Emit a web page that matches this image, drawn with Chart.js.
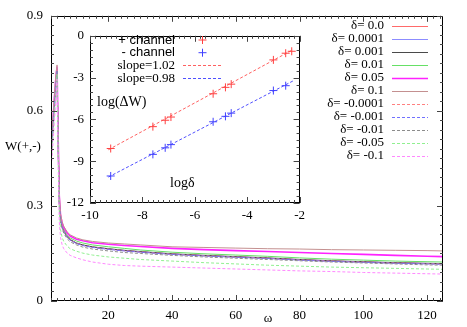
<!DOCTYPE html>
<html>
<head>
<meta charset="utf-8">
<script src="https://cdn.jsdelivr.net/npm/chart.js@4.4.1/dist/chart.umd.min.js"></script>
<style>
  html, body { margin: 0; padding: 0; background: #fff; }
  #wrap { position: relative; width: 467px; height: 327px; }
  #main { position: absolute; left: 0; top: 0; }
  #inset { position: absolute; left: 55px; top: 22px; }
</style>
</head>
<body>
<div id="wrap">
  <canvas id="main" width="467" height="327"></canvas>
  <canvas id="inset" width="255" height="205"></canvas>
</div>
<script>
// main plot: W(+,-) against omega for several delta
const omega = [2, 2.5, 3, 3.5, 3.9, 4.2, 4.6, 5, 5.5, 6, 7, 8, 10, 12, 15, 20, 25, 30, 40, 50, 60, 70, 80, 90, 100, 110, 120, 125];

const w_0     = [0.45, 0.53, 0.61, 0.68, 0.73, 0.52, 0.31, 0.26, 0.235, 0.22, 0.203, 0.193, 0.182, 0.176, 0.170, 0.164, 0.159, 0.155, 0.148, 0.143, 0.139, 0.135, 0.130, 0.126, 0.123, 0.120, 0.118, 0.117];
const w_p0001 = [0.45, 0.53, 0.61, 0.68, 0.73, 0.52, 0.31, 0.26, 0.235, 0.22, 0.203, 0.193, 0.182, 0.176, 0.170, 0.164, 0.159, 0.155, 0.148, 0.143, 0.139, 0.135, 0.130, 0.126, 0.123, 0.120, 0.118, 0.117];
const w_p001  = [0.451, 0.531, 0.611, 0.681, 0.731, 0.521, 0.311, 0.261, 0.236, 0.221, 0.204, 0.194, 0.183, 0.177, 0.171, 0.165, 0.160, 0.156, 0.149, 0.144, 0.140, 0.136, 0.131, 0.127, 0.124, 0.121, 0.119, 0.118];
const w_p01   = [0.46, 0.54, 0.62, 0.69, 0.735, 0.53, 0.32, 0.265, 0.24, 0.226, 0.209, 0.199, 0.189, 0.183, 0.177, 0.171, 0.166, 0.161, 0.154, 0.149, 0.145, 0.141, 0.136, 0.132, 0.129, 0.126, 0.124, 0.123];
const w_p05   = [0.47, 0.55, 0.63, 0.70, 0.74, 0.54, 0.33, 0.27, 0.245, 0.232, 0.215, 0.205, 0.195, 0.190, 0.184, 0.179, 0.175, 0.172, 0.166, 0.162, 0.159, 0.156, 0.153, 0.150, 0.147, 0.144, 0.141, 0.140];
const w_p1    = [0.48, 0.56, 0.64, 0.71, 0.745, 0.55, 0.34, 0.275, 0.25, 0.236, 0.219, 0.209, 0.199, 0.193, 0.188, 0.183, 0.180, 0.177, 0.171, 0.169, 0.167, 0.165, 0.164, 0.162, 0.161, 0.160, 0.159, 0.158];
const w_m0001 = [0.45, 0.53, 0.61, 0.68, 0.73, 0.52, 0.31, 0.26, 0.235, 0.22, 0.203, 0.193, 0.182, 0.176, 0.170, 0.164, 0.159, 0.155, 0.148, 0.143, 0.139, 0.135, 0.130, 0.126, 0.123, 0.120, 0.118, 0.117];
const w_m001  = [0.449, 0.529, 0.609, 0.679, 0.729, 0.519, 0.309, 0.259, 0.234, 0.219, 0.202, 0.192, 0.181, 0.175, 0.169, 0.163, 0.158, 0.154, 0.147, 0.142, 0.138, 0.134, 0.129, 0.125, 0.122, 0.119, 0.117, 0.116];
const w_m01   = [0.44, 0.52, 0.60, 0.67, 0.725, 0.51, 0.30, 0.25, 0.228, 0.214, 0.197, 0.187, 0.177, 0.170, 0.164, 0.158, 0.153, 0.150, 0.144, 0.139, 0.135, 0.131, 0.127, 0.123, 0.120, 0.117, 0.114, 0.113];
const w_m05   = [0.43, 0.50, 0.58, 0.65, 0.715, 0.49, 0.28, 0.225, 0.20, 0.188, 0.174, 0.165, 0.157, 0.151, 0.145, 0.139, 0.135, 0.131, 0.126, 0.121, 0.117, 0.113, 0.110, 0.107, 0.105, 0.103, 0.101, 0.100];
const w_m1    = [0.41, 0.48, 0.56, 0.63, 0.70, 0.46, 0.25, 0.20, 0.177, 0.165, 0.152, 0.144, 0.136, 0.130, 0.123, 0.116, 0.112, 0.110, 0.107, 0.104, 0.101, 0.098, 0.095, 0.093, 0.090, 0.088, 0.086, 0.085];

const deltaLabels = ['δ= 0.0', 'δ= 0.0001', 'δ= 0.001', 'δ= 0.01', 'δ= 0.05', 'δ= 0.1',
                     'δ= -0.0001', 'δ= -0.001', 'δ= -0.01', 'δ= -0.05', 'δ= -0.1'];
const xTicks = [20, 40, 60, 80, 100, 120];
const yTicks = [0, 0.3, 0.6, 0.9];

// inset: log(dW) against log(delta)
const logDelta   = [-9.21, -7.60, -7.13, -6.91, -5.30, -4.83, -4.61, -3.00, -2.53, -2.30];
const logDWplus  = [-8.09, -6.52, -6.06, -5.83, -4.16, -3.70, -3.47, -1.73, -1.25, -1.11];
const logDeltaM  = [-9.21, -7.60, -7.13, -6.91, -5.30, -4.83, -4.61, -3.00, -2.53];
const logDWminus = [-10.06, -8.51, -8.04, -7.81, -6.17, -5.78, -5.55, -3.93, -3.58];
const fitX     = [-9.3, -2.25];
const fitPlus  = [-8.18, -0.99];
const fitMinus = [-10.14, -3.24];
const insetXTicks = [-10, -8, -6, -4, -2];
const insetYTicks = [0, -3, -6, -9, -12];

Chart.defaults.font.family = '"Liberation Serif", serif';
Chart.defaults.font.size = 13;
Chart.defaults.color = '#000';

const series = [w_0, w_p0001, w_p001, w_p01, w_p05, w_p1, w_m0001, w_m001, w_m01, w_m05, w_m1];
const styles = [
  {c: '#ff6a6a', w: 1, d: []},
  {c: '#8c8cff', w: 1, d: []},
  {c: '#4a4a4a', w: 1, d: []},
  {c: '#66e066', w: 1, d: []},
  {c: '#ff22ff', w: 1.6, d: []},
  {c: '#c49090', w: 1, d: []},
  {c: '#ff8080', w: 1, d: [3, 2]},
  {c: '#7070ff', w: 1, d: [3, 2]},
  {c: '#8c8c8c', w: 1, d: [3, 2]},
  {c: '#90f090', w: 1, d: [3, 2]},
  {c: '#ff88ff', w: 1, d: [3, 2]}
];

function pairs(xs, ys) { return xs.map((x, i) => ({x: x, y: ys[i]})); }

// box + inward ticks on all four sides, plus free text
const frame = {
  id: 'frame',
  afterDatasetsDraw(chart, args, o) {
    const ctx = chart.ctx, a = chart.chartArea, sx = chart.scales.x, sy = chart.scales.y;
    ctx.save();
    ctx.strokeStyle = '#000';
    ctx.lineWidth = 1;
    ctx.setLineDash([]);
    ctx.strokeRect(Math.round(a.left) + 0.5, Math.round(a.top) + 0.5, Math.round(a.width) - 1, Math.round(a.height) - 1);
    ctx.strokeStyle = '#444';
    ctx.beginPath();
    for (let v = Math.ceil(sx.min / o.xMinor - 1e-6) * o.xMinor; v <= sx.max + 1e-9; v += o.xMinor) {
      const isMaj = Math.abs(v / o.xMajor - Math.round(v / o.xMajor)) < 1e-6;
      const len = isMaj ? o.major : o.minor;
      const px = Math.round(sx.getPixelForValue(v)) + 0.5;
      ctx.moveTo(px, a.bottom); ctx.lineTo(px, a.bottom - len);
      ctx.moveTo(px, a.top); ctx.lineTo(px, a.top + len);
    }
    for (let v = Math.ceil(sy.min / o.yMinor - 1e-6) * o.yMinor; v <= sy.max + 1e-9; v += o.yMinor) {
      const isMaj = Math.abs(v / o.yMajor - Math.round(v / o.yMajor)) < 1e-6;
      const len = isMaj ? o.major : o.minor;
      const py = Math.round(sy.getPixelForValue(v)) + 0.5;
      ctx.moveTo(a.left, py); ctx.lineTo(a.left + len, py);
      ctx.moveTo(a.right, py); ctx.lineTo(a.right - len, py);
    }
    ctx.stroke();
    ctx.fillStyle = '#000';
    ctx.textBaseline = 'middle';
    (o.texts || []).forEach(t => {
      ctx.font = t.font || '13px "Liberation Serif"';
      ctx.textAlign = t.align || 'center';
      ctx.fillText(t.t, t.x, t.y);
    });
    ctx.restore();
  }
};

// gnuplot style key: text right aligned, sample to the right
const key = {
  id: 'key',
  afterDatasetsDraw(chart, args, o) {
    if (!o.items) return;
    const ctx = chart.ctx;
    ctx.save();
    ctx.textAlign = 'right';
    ctx.textBaseline = 'middle';
    o.items.forEach((it, i) => {
      const ds = chart.data.datasets[it.ds];
      const y = o.top + i * o.row;
      ctx.font = it.font || '13px "Liberation Serif"';
      ctx.fillStyle = '#000';
      ctx.fillText(ds.label, o.textRight, y);
      ctx.strokeStyle = ds.borderColor;
      ctx.lineWidth = ds.borderWidth || 1;
      if (it.point) {
        ctx.setLineDash([]);
        Chart.helpers.drawPoint(ctx, {pointStyle: 'cross', radius: 4, borderWidth: 1}, (o.x0 + o.x1) / 2, y);
      } else {
        ctx.setLineDash(ds.borderDash || []);
        ctx.beginPath();
        ctx.moveTo(o.x0, Math.round(y) + 0.5);
        ctx.lineTo(o.x1, Math.round(y) + 0.5);
        ctx.stroke();
      }
    });
    ctx.restore();
  }
};

const mainSets = series.map((vals, i) => ({
  label: deltaLabels[i],
  data: pairs(omega, vals),
  borderColor: styles[i].c,
  borderWidth: styles[i].w,
  borderDash: styles[i].d,
  pointRadius: 0,
  tension: 0,
  fill: false,
  order: series.length - i
}));

new Chart(document.getElementById('main'), {
  type: 'line',
  data: { datasets: mainSets },
  options: {
    responsive: false,
    animation: false,
    events: [],
    layout: { padding: { top: 15, right: 24, left: 0, bottom: 0 } },
    scales: {
      x: {
        type: 'linear', min: 2, max: 125,
        afterBuildTicks: s => { s.ticks = xTicks.map(v => ({value: v})); },
        afterFit: s => { s.height = 26; },
        grid: { display: false, drawTicks: false },
        border: { display: false },
        ticks: { padding: 7, maxRotation: 0, autoSkip: false }
      },
      y: {
        type: 'linear', min: 0, max: 0.9,
        afterBuildTicks: s => { s.ticks = yTicks.map(v => ({value: v})); },
        afterFit: s => { s.width = 51; },
        grid: { display: false, drawTicks: false },
        border: { display: false },
        ticks: { padding: 8, autoSkip: false, callback: v => String(v) }
      }
    },
    plugins: {
      legend: { display: false },
      tooltip: { enabled: false },
      frame: {
        xMinor: 2, xMajor: 20, yMinor: 0.03, yMajor: 0.3, major: 6, minor: 3,
        texts: [
          {t: 'W(+,-)', x: 23, y: 147},
          {t: 'ω', x: 268, y: 319}
        ]
      },
      key: {
        top: 26, row: 13, textRight: 384, x0: 392, x1: 428,
        items: series.map((s, i) => ({ds: i}))
      }
    }
  },
  plugins: [frame, key]
});

new Chart(document.getElementById('inset'), {
  type: 'scatter',
  data: {
    datasets: [
      { label: '+ channel', data: pairs(logDelta, logDWplus), borderColor: '#ff4040', backgroundColor: '#ff4040',
        pointStyle: 'cross', pointRadius: 4, borderWidth: 1, showLine: false },
      { label: '- channel', data: pairs(logDeltaM, logDWminus), borderColor: '#4040ff', backgroundColor: '#4040ff',
        pointStyle: 'cross', pointRadius: 4, borderWidth: 1, showLine: false },
      { label: 'slope=1.02', data: pairs(fitX, fitPlus), borderColor: '#ff6060', borderWidth: 1,
        borderDash: [3, 2], pointRadius: 0, showLine: true },
      { label: 'slope=0.98', data: pairs(fitX, fitMinus), borderColor: '#5050ff', borderWidth: 1,
        borderDash: [3, 2], pointRadius: 0, showLine: true }
    ]
  },
  options: {
    responsive: false,
    animation: false,
    events: [],
    layout: { padding: { top: 8, right: 8, left: 0, bottom: 0 } },
    scales: {
      x: {
        type: 'linear', min: -10, max: -2,
        afterBuildTicks: s => { s.ticks = insetXTicks.map(v => ({value: v})); },
        afterFit: s => { s.height = 24; },
        grid: { display: false, drawTicks: false },
        border: { display: false },
        ticks: { padding: 5, maxRotation: 0, autoSkip: false }
      },
      y: {
        type: 'linear', min: -12, max: 0,
        afterBuildTicks: s => { s.ticks = insetYTicks.map(v => ({value: v})); },
        afterFit: s => { s.width = 35; },
        grid: { display: false, drawTicks: false },
        border: { display: false },
        ticks: { padding: 6, autoSkip: false }
      }
    },
    plugins: {
      legend: { display: false },
      tooltip: { enabled: false },
      frame: {
        xMinor: 0.2, xMajor: 2, yMinor: 0.5, yMajor: 3, major: 6, minor: 3,
        texts: [
          {t: 'log(ΔW)', x: 42, y: 80, align: 'left', font: '14px "Liberation Serif"'},
          {t: 'logδ', x: 115, y: 161, align: 'left', font: '14px "Liberation Serif"'}
        ]
      },
      key: {
        top: 18, row: 12.7, textRight: 120, x0: 128, x1: 167,
        items: [
          {ds: 0, point: true, font: '13px "Liberation Sans"'},
          {ds: 1, point: true, font: '13px "Liberation Sans"'},
          {ds: 2},
          {ds: 3}
        ]
      }
    }
  },
  plugins: [frame, key]
});
</script>
</body>
</html>
